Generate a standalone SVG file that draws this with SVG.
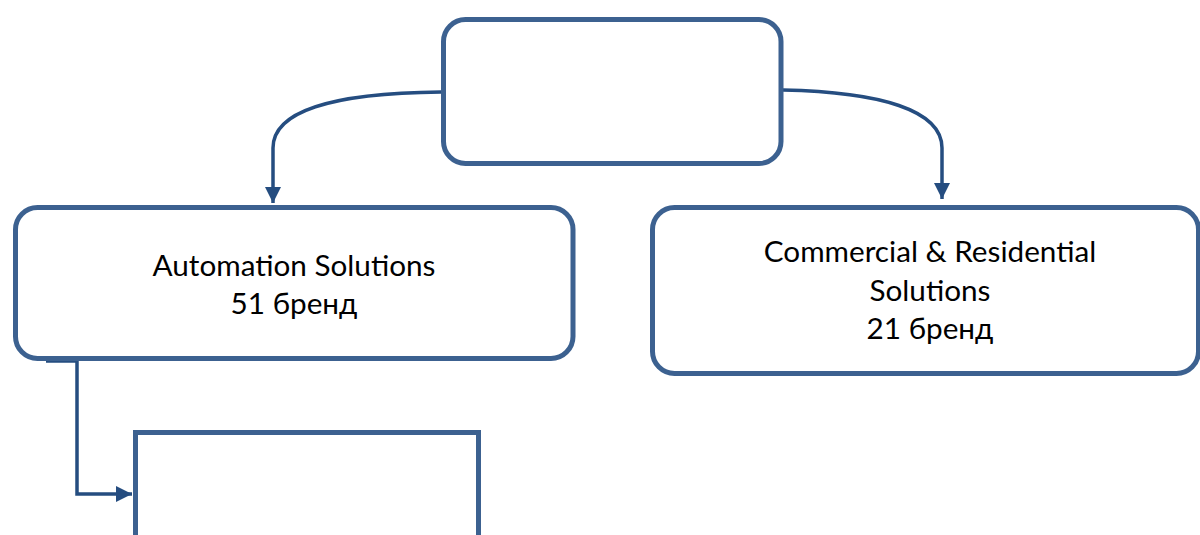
<svg xmlns="http://www.w3.org/2000/svg" width="1200" height="535" viewBox="0 0 1200 535">
<style>
.box{fill:#fff;stroke:#3c6190;stroke-width:5}
.conn{fill:none;stroke:#254d80;stroke-width:3.5}
.t{font-family:Lato,"Open Sans","DejaVu Sans",sans-serif;font-size:29.7px;fill:#000;text-anchor:middle}
</style>
<defs>
<marker id="ah" viewBox="0 0 10 10" refX="10" refY="5" markerWidth="16" markerHeight="16" markerUnits="userSpaceOnUse" orient="auto">
<path d="M0,0 L10,5 L0,10 z" fill="#254d80"/>
</marker>
</defs>
<g id="connectors">
<path class="conn" d="M441,92 C330,93 273,112 273,148 L273,203" marker-end="url(#ah)"/>
<path class="conn" d="M783,90 C880,92 942,110 942,148 L942,199" marker-end="url(#ah)"/>
<path class="conn" d="M46,361 L77,361 L77,494 L132,494" marker-end="url(#ah)"/>
</g>
<g id="top">
<rect class="box" x="443.5" y="19.5" width="337.5" height="144" rx="22"/>
</g>
<g id="automation">
<rect class="box" x="15.5" y="207.5" width="557.5" height="151" rx="22"/>
<text class="t" x="294" y="276">Automation Solutions</text>
<text class="t" x="294" y="314">51 бренд</text>
</g>
<g id="commercial">
<rect class="box" x="652.5" y="207.5" width="546" height="166" rx="22"/>
<text class="t" x="930" y="262">Commercial &amp; Residential</text>
<text class="t" x="930" y="301">Solutions</text>
<text class="t" x="930" y="339">21 бренд</text>
</g>
<g id="bottom">
<rect class="box" x="135.5" y="432.5" width="343" height="120"/>
</g>
</svg>
